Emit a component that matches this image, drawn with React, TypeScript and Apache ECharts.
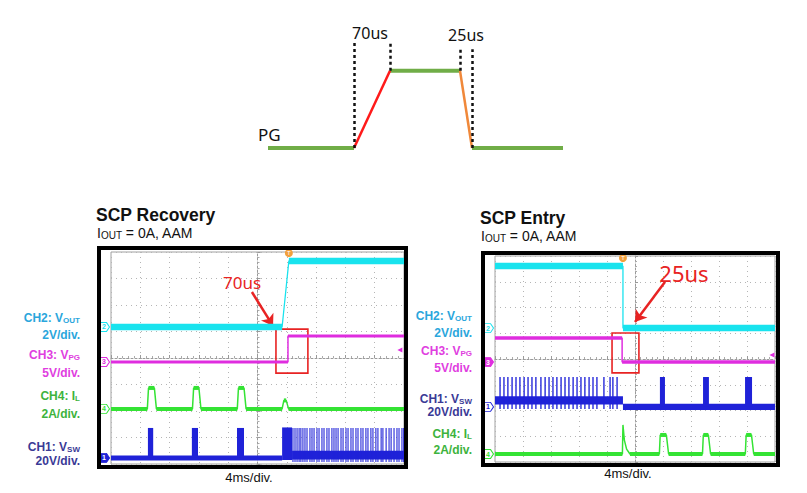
import React, { useEffect, useRef } from 'react';
import * as echarts from 'echarts';

// ---------- PG timing sketch (time units, level 0/1) ----------
const pgTimes = [0, 86, 122, 192, 204, 295];
const pgLevels = [0, 0, 1, 1, 0, 0];
const pgSegColors = ['#70ad47', '#ff1a1a', '#70ad47', '#f0883a', '#70ad47'];
const pgSegWidths = [4, 2.5, 4, 2.5, 4];
const pgGuides = [[86, 0, 1.36], [122, 1, 1.36], [192, 1, 1.28], [204, 0, 1.28]];
const pgLabels = ['70us', '25us'];

// ---------- SCP Recovery scope (divisions: x -5..5, y -4..4) ----------
const recVout = [[-5, 1.17], [0.84, 1.17], [1.07, 3.66], [5, 3.66]];
const recVpg = [[-5, -0.15], [1.04, -0.15], [1.04, 0.83], [5, 0.83]];
const recIl = [[-5, -1.92], [-3.76, -1.92], [-3.72, -1.13], [-3.52, -1.13], [-3.45, -1.92], [-2.22, -1.92], [-2.18, -1.13], [-2.0, -1.13], [-1.93, -1.92], [-0.69, -1.92], [-0.65, -1.13], [-0.46, -1.13], [-0.39, -1.92], [0.84, -1.92], [0.9, -1.6], [0.98, -1.6], [1.06, -1.92], [5, -1.92]];
const recVswBase = [[-5, -3.77], [0.84, -3.77]];
const recVswBlocks = [[-3.74, -3.56, -3.77, -2.64], [-2.24, -2.03, -3.77, -2.64], [-0.7, -0.46, -3.77, -2.64], [0.84, 1.18, -3.85, -2.62], [1.18, 5, -3.83, -3.5]];
const recVswSpikes = [1.21, 1.28, 1.35, 1.42, 1.48, 1.55, 1.62, 1.69, 1.79, 1.86, 1.93, 2.03, 2.1, 2.2, 2.27, 2.37, 2.44, 2.54, 2.61, 2.68, 2.75, 2.85, 2.92, 3.02, 3.09, 3.19, 3.26, 3.36, 3.43, 3.53, 3.6, 3.7, 3.77, 3.87, 3.94, 4.04, 4.11, 4.22, 4.28, 4.39, 4.49, 4.56, 4.66, 4.76, 4.83, 4.93, 4.99];
const recMarkers = [['2', 1.17], ['3', -0.15], ['4', -1.92], ['1', -3.77]];
const recBox = [[0.63, 1.09], [1.72, -0.57]];
const recArrow = [[-0.19, 2.49], [0.53, 1.21]];
const recTrigger = [1.07, 3.96];

// ---------- SCP Entry scope ----------
const entVout = [[-5, 3.61], [-0.43, 3.61], [-0.43, 1.2], [5, 1.2]];
const entVpg = [[-5, 0.82], [-0.46, 0.82], [-0.46, -0.12], [5, -0.12]];
const entIl = [[-5, -3.69], [-0.45, -3.69], [-0.43, -2.56], [-0.38, -3.15], [-0.3, -3.5], [-0.18, -3.69], [0.87, -3.69], [0.9, -2.95], [1.12, -2.95], [1.2, -3.69], [2.41, -3.69], [2.44, -2.95], [2.62, -2.95], [2.7, -3.69], [3.94, -3.69], [3.97, -2.95], [4.16, -2.95], [4.24, -3.69], [5, -3.69]];
const entVswBlocks = [[-5, -0.43, -1.77, -1.45], [-0.43, 5, -1.98, -1.74], [0.89, 1.07, -1.86, -0.7], [2.43, 2.64, -1.86, -0.7], [3.93, 4.18, -1.86, -0.7]];
const entVswSpikes = [-4.82, -4.68, -4.54, -4.39, -4.25, -4.11, -3.96, -3.82, -3.68, -3.54, -3.36, -3.21, -3.07, -2.93, -2.79, -2.64, -2.5, -2.36, -2.21, -2.07, -1.93, -1.79, -1.64, -1.5, -1.36, -1.11, -0.89, -0.79, -0.64];
const entMarkers = [['2', 1.2], ['3', -0.12], ['1', -1.86], ['4', -3.69]];
const entBox = [[-0.82, 1.01], [0.14, -0.54]];
const entArrow = [[1.07, 2.99], [0, 1.44]];
const entTrigger = [-0.43, 3.92];

const C_CYAN = '#19e3ee';
const C_MAG = '#df2edf';
const C_GRN = '#34e334';
const C_BLU = '#1f22d8';
const L_CYAN = '#2aa6dc';
const L_MAG = '#e03ee0';
const L_GRN = '#3db33d';
const L_BLU = '#3a3a96';
const RED = '#e82323';
const SANS = 'Liberation Sans, Arial, sans-serif';
const TAG = 'path://M0,0 L8,0 L11,4.5 L8,9 L0,9 Z';

function levelRuns(pts: number[][]) {
  const out: number[][] = [];
  for (let i = 0; i < pts.length - 1; i++) {
    if (pts[i][1] === pts[i + 1][1]) out.push([pts[i][0], pts[i][1], pts[i + 1][0], pts[i + 1][1]]);
  }
  return out;
}

function lineSeries(data: number[][], color: string, width: number, axis: number, z: number, extra: any = {}) {
  return {
    type: 'line', data, xAxisIndex: axis, yAxisIndex: axis, symbol: 'none', silent: true, z,
    lineStyle: { color, width }, itemStyle: { color }, ...extra,
  };
}

function segSeries(segs: number[][], color: string, width: number, axis: number, z: number) {
  return {
    type: 'custom', xAxisIndex: axis, yAxisIndex: axis, silent: true, z,
    encode: { x: [0, 2], y: [1, 3] }, data: segs,
    renderItem: (_p: any, api: any) => {
      const a = api.coord([api.value(0), api.value(1)]);
      const b = api.coord([api.value(2), api.value(3)]);
      return { type: 'line', shape: { x1: a[0], y1: a[1], x2: b[0], y2: b[1] }, style: { stroke: color, lineWidth: width } };
    },
  };
}

function rectSeries(rects: number[][], color: string, axis: number, z: number) {
  return {
    type: 'custom', xAxisIndex: axis, yAxisIndex: axis, silent: true, z,
    encode: { x: [0, 1], y: [2, 3] }, data: rects,
    renderItem: (_p: any, api: any) => {
      const a = api.coord([api.value(0), api.value(3)]);
      const b = api.coord([api.value(1), api.value(2)]);
      return { type: 'rect', shape: { x: a[0], y: a[1], width: b[0] - a[0], height: b[1] - a[1] }, style: { fill: color } };
    },
  };
}

function spikeSeries(xs: number[], lo: number, hi: number, color: string, axis: number, z: number, w: number) {
  return {
    type: 'custom', xAxisIndex: axis, yAxisIndex: axis, silent: true, z,
    encode: { x: 0, y: [1, 2] }, data: xs.map((x) => [x, lo, hi]),
    renderItem: (_p: any, api: any) => {
      const a = api.coord([api.value(0), api.value(1)]);
      const b = api.coord([api.value(0), api.value(2)]);
      return { type: 'line', shape: { x1: a[0], y1: a[1], x2: b[0], y2: b[1] }, style: { stroke: color, lineWidth: w, opacity: 0.9 } };
    },
  };
}

function markerData(markers: any[], colors: Record<string, string>, filled: Record<string, boolean>) {
  return markers.map(([n, y]) => ({
    coord: [-5, y], symbol: TAG, symbolSize: [11, 9], symbolOffset: [-7, 0], symbolKeepAspect: false,
    itemStyle: { color: filled[n] ? colors[n] : '#fff', borderColor: colors[n], borderWidth: 1 },
    label: { show: true, formatter: n, color: filled[n] ? '#fff' : colors[n], fontSize: 7, fontWeight: 'bold', position: 'inside', fontFamily: SANS },
  }));
}

function scopeAxes(grid: number) {
  const x = {
    gridIndex: grid, type: 'value', min: -5, max: 5, interval: 1,
    axisLabel: { show: false },
    axisLine: { show: true, onZero: true, lineStyle: { color: '#9a9a9a', width: 1, type: [2, 2] } },
    axisTick: { show: true, inside: true, length: 3, lineStyle: { color: '#999' } },
    minorTick: { show: true, splitNumber: 5, length: 2, lineStyle: { color: '#aaa' } },
    splitLine: { show: true, lineStyle: { color: '#b5b5b5', width: 1, type: [1, 4] } },
  };
  const y = {
    gridIndex: grid, type: 'value', min: -4, max: 4, interval: 1,
    axisLabel: { show: false },
    axisLine: { show: true, onZero: true, lineStyle: { color: '#9a9a9a', width: 1, type: [2, 2] } },
    axisTick: { show: true, inside: true, length: 3, lineStyle: { color: '#999' } },
    minorTick: { show: true, splitNumber: 5, length: 2, lineStyle: { color: '#aaa' } },
    splitLine: { show: true, lineStyle: { color: '#b5b5b5', width: 1, type: [1, 4] } },
  };
  return { x, y };
}

function chLabel(x: number, y: number, main: string, sub: string, color: string) {
  return {
    type: 'text', x, y, z: 60,
    style: {
      text: sub ? `{a|${main}}{s|${sub}}` : `{a|${main}}`,
      align: 'right', verticalAlign: 'middle',
      rich: {
        a: { fontSize: 12, fontWeight: 'bold', fontFamily: SANS, fill: color, color, lineHeight: 14, verticalAlign: 'bottom' },
        s: { fontSize: 8, fontWeight: 'bold', fontFamily: SANS, fill: color, color, lineHeight: 8, verticalAlign: 'bottom' },
      },
    },
  };
}

function plainText(x: number, y: number, text: string, size: number, color: string, opts: any = {}) {
  return {
    type: 'text', x, y, z: 60,
    style: { text, fontSize: size, fontFamily: opts.family || SANS, fontWeight: opts.weight || 'normal', fill: color, align: opts.align || 'left', verticalAlign: 'middle' },
  };
}

function ioutText(x: number, y: number) {
  return {
    type: 'text', x, y, z: 60,
    style: {
      text: '{a|I}{s|OUT}{a| = 0A, AAM}', align: 'left', verticalAlign: 'middle',
      rich: {
        a: { fontSize: 14, fontFamily: SANS, fill: '#111', color: '#111', lineHeight: 16, verticalAlign: 'bottom' },
        s: { fontSize: 10, fontFamily: SANS, fill: '#111', color: '#111', lineHeight: 12, verticalAlign: 'bottom' },
      },
    },
  };
}

function buildOption() {
  const L = scopeAxes(1);
  const R = scopeAxes(2);
  const series: any[] = [];

  // PG sketch
  for (let i = 0; i < pgTimes.length - 1; i++) {
    const seg = [[pgTimes[i], pgLevels[i]], [pgTimes[i + 1], pgLevels[i + 1]]];
    const extra: any = {};
    if (i === 0) {
      extra.markLine = {
        silent: true, symbol: ['none', 'none'], label: { show: false },
        lineStyle: { color: '#111', width: 2.5, type: [3, 3] },
        data: pgGuides.map(([t, a, b]) => [{ coord: [t, a] }, { coord: [t, b] }]),
      };
    }
    series.push(lineSeries(seg, pgSegColors[i], pgSegWidths[i], 0, i === 0 || i === 2 || i === 4 ? 3 : 4, extra));
  }

  // --- Recovery scope ---
  series.push(lineSeries(recVout, C_CYAN, 1.3, 1, 5, {
    markPoint: {
      silent: true,
      data: [
        ...markerData(recMarkers, { '2': C_CYAN, '3': C_MAG, '4': C_GRN, '1': C_BLU }, { '1': true }),
        { coord: recTrigger, symbol: 'circle', symbolSize: 8, itemStyle: { color: '#f2a03c' }, label: { show: true, formatter: 'T', color: '#fff', fontSize: 6, position: 'inside' } },
      ],
    },
    markLine: {
      silent: true, symbol: ['none', 'arrow'], symbolSize: 11, label: { show: false },
      lineStyle: { color: RED, width: 2.5, type: 'solid' },
      data: [[{ coord: recArrow[0] }, { coord: recArrow[1] }]],
    },
  }));
  series.push(segSeries(levelRuns(recVout), C_CYAN, 6.5, 1, 5));
  series.push(lineSeries(recVpg, C_MAG, 1.5, 1, 6, {
    markArea: {
      silent: true, itemStyle: { color: 'rgba(0,0,0,0)', borderColor: RED, borderWidth: 1.6 },
      data: [[{ coord: recBox[0] }, { coord: recBox[1] }]],
    },
    markPoint: {
      silent: true,
      data: [{ coord: [4.86, 0.3], symbol: 'triangle', symbolRotate: 90, symbolSize: 5, itemStyle: { color: C_MAG }, label: { show: false } }],
    },
  }));
  series.push(segSeries(levelRuns(recVpg), C_MAG, 3, 1, 6));
  series.push(lineSeries(recIl, C_GRN, 1.5, 1, 5));
  series.push(segSeries(levelRuns(recIl), C_GRN, 4, 1, 5));
  series.push(segSeries(levelRuns(recVswBase), C_BLU, 5, 1, 4));
  series.push(rectSeries(recVswBlocks, C_BLU, 1, 4));
  series.push(spikeSeries(recVswSpikes, -3.92, -2.64, C_BLU, 1, 4, 1.2));

  // --- Entry scope ---
  series.push(lineSeries(entVout, C_CYAN, 1.3, 2, 5, {
    markPoint: {
      silent: true,
      data: [
        ...markerData(entMarkers, { '2': C_CYAN, '3': C_MAG, '4': C_GRN, '1': C_BLU }, { '3': true }),
        { coord: entTrigger, symbol: 'circle', symbolSize: 8, itemStyle: { color: '#f2a03c' }, label: { show: true, formatter: 'T', color: '#fff', fontSize: 6, position: 'inside' } },
      ],
    },
    markLine: {
      silent: true, symbol: ['none', 'arrow'], symbolSize: 11, label: { show: false },
      lineStyle: { color: RED, width: 2.5, type: 'solid' },
      data: [[{ coord: entArrow[0] }, { coord: entArrow[1] }]],
    },
  }));
  series.push(segSeries(levelRuns(entVout), C_CYAN, 6.5, 2, 5));
  series.push(lineSeries(entVpg, C_MAG, 1.5, 2, 6, {
    markArea: {
      silent: true, itemStyle: { color: 'rgba(0,0,0,0)', borderColor: RED, borderWidth: 1.6 },
      data: [[{ coord: entBox[0] }, { coord: entBox[1] }]],
    },
    markPoint: {
      silent: true,
      data: [{ coord: [4.89, 0.16], symbol: 'triangle', symbolRotate: 90, symbolSize: 5, itemStyle: { color: C_MAG }, label: { show: false } }],
    },
  }));
  series.push(segSeries(levelRuns(entVpg), C_MAG, 3.5, 2, 6));
  series.push(rectSeries(entVswBlocks, C_BLU, 2, 4));
  series.push(spikeSeries(entVswSpikes, -1.94, -0.7, C_BLU, 2, 4, 1.5));
  series.push(lineSeries(entIl, C_GRN, 1.5, 2, 5));
  series.push(segSeries(levelRuns(entIl), C_GRN, 4, 2, 5));

  const graphic: any[] = [
    // PG sketch labels
    plainText(370, 33, pgLabels[0], 16, '#111', { align: 'center', family: 'Noto Sans, sans-serif' }),
    plainText(466, 35, pgLabels[1], 16, '#111', { align: 'center', family: 'Noto Sans, sans-serif' }),
    plainText(258, 134, 'PG', 17, '#111', { family: 'Noto Sans, sans-serif' }),
    // scope frames
    { type: 'rect', z: 50, shape: { x: 99, y: 248, width: 307, height: 219 }, style: { fill: 'none', stroke: '#000', lineWidth: 4 } },
    { type: 'rect', z: 50, shape: { x: 483, y: 253, width: 295, height: 212 }, style: { fill: 'none', stroke: '#000', lineWidth: 4 } },
    // titles
    plainText(96, 215, 'SCP Recovery', 17.5, '#111', { weight: 'bold' }),
    ioutText(97, 232),
    plainText(480, 218, 'SCP Entry', 17.5, '#111', { weight: 'bold' }),
    ioutText(481, 235),
    plainText(249, 477, '4ms/div.', 13, '#111', { align: 'center' }),
    plainText(628, 473, '4ms/div.', 13, '#111', { align: 'center' }),
    // red annotations
    plainText(242, 282, '70us', 17, RED, { align: 'center', family: 'Noto Sans, sans-serif' }),
    plainText(684, 273, '25us', 22, RED, { align: 'center', family: 'Noto Sans, sans-serif' }),
    // left channel labels
    chLabel(80, 317, 'CH2: V', 'OUT', L_CYAN),
    chLabel(80, 334, '2V/div.', '', L_CYAN),
    chLabel(80, 354, 'CH3: V', 'PG', L_MAG),
    chLabel(80, 372, '5V/div.', '', L_MAG),
    chLabel(80, 395, 'CH4: I', 'L', L_GRN),
    chLabel(80, 413, '2A/div.', '', L_GRN),
    chLabel(80, 446, 'CH1: V', 'SW', L_BLU),
    chLabel(80, 460, '20V/div.', '', L_BLU),
    // middle channel labels
    chLabel(472, 315, 'CH2: V', 'OUT', L_CYAN),
    chLabel(472, 332, '2V/div.', '', L_CYAN),
    chLabel(472, 350, 'CH3: V', 'PG', L_MAG),
    chLabel(472, 367, '5V/div.', '', L_MAG),
    chLabel(472, 398, 'CH1: V', 'SW', L_BLU),
    chLabel(472, 411, '20V/div.', '', L_BLU),
    chLabel(472, 433, 'CH4: I', 'L', L_GRN),
    chLabel(472, 449, '2A/div.', '', L_GRN),
  ];

  return {
    animation: false,
    backgroundColor: '#fff',
    grid: [
      { left: 268, top: 43, width: 295, height: 105 },
      { left: 111, top: 252, width: 293, height: 212, show: true, borderColor: '#a0a0a0', borderWidth: 1, backgroundColor: '#fff' },
      { left: 495, top: 256, width: 280, height: 206, show: true, borderColor: '#a0a0a0', borderWidth: 1, backgroundColor: '#fff' },
    ],
    xAxis: [
      { gridIndex: 0, type: 'value', min: 0, max: 295, show: false },
      L.x,
      R.x,
    ],
    yAxis: [
      { gridIndex: 0, type: 'value', min: 0, max: 1.36, show: false },
      L.y,
      R.y,
    ],
    series,
    graphic,
  };
}

export default function App() {
  const ref = useRef<HTMLDivElement>(null);
  useEffect(() => {
    const chart = echarts.init(ref.current as HTMLDivElement, null, { renderer: 'svg' });
    chart.setOption(buildOption() as any);
    return () => chart.dispose();
  }, []);
  return <div ref={ref} style={{ position: 'absolute', left: 0, top: 0, width: 807, height: 493, background: '#fff' }} />;
}
